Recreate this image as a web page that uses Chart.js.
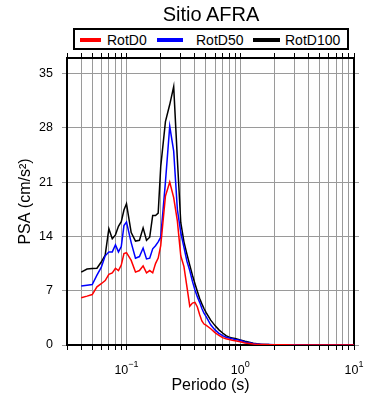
<!DOCTYPE html>
<html>
<head>
<meta charset="utf-8">
<script src="https://cdn.jsdelivr.net/npm/chart.js@4.4.0/dist/chart.umd.min.js"></script>
<style>
  body { margin: 0; background: #fff; }
  #wrap { position: relative; width: 390px; height: 400px; font-family: "Liberation Sans", Arial, sans-serif; color: #000; }
  #c { position: absolute; left: 0; top: 0; }
  #title { position: absolute; left: 111px; top: 4px; width: 200px; text-align: center; font-size: 20px; line-height: 1; }
  #legend { position: absolute; left: 73px; top: 28px; width: 276px; height: 22px; box-sizing: border-box; border: 2px solid #000; background: #fff; }
  .lg-line { position: absolute; height: 4px; top: 38px; }
  .lg-text { position: absolute; top: 33px; font-size: 14px; line-height: 1; white-space: nowrap; }
</style>
</head>
<body>
<div id="wrap">
  <canvas id="c" width="390" height="400"></canvas>
  <div id="title">Sitio AFRA</div>
  <div id="legend"></div>
</div>
<script>
// periodos (s)
const periods = [0.04, 0.045, 0.05, 0.055, 0.06, 0.065, 0.07, 0.075, 0.08, 0.085, 0.09, 0.095,
  0.1, 0.11, 0.12, 0.13, 0.14, 0.15, 0.16, 0.17, 0.18, 0.19, 0.2,
  0.22, 0.24, 0.26, 0.28, 0.3, 0.32, 0.34, 0.36, 0.38, 0.4, 0.42, 0.44, 0.46, 0.48, 0.5,
  0.55, 0.6, 0.65, 0.7, 0.75, 0.8, 0.85, 0.9, 0.95, 1.0,
  1.1, 1.2, 1.3, 1.4, 1.5, 1.6,
  1.8, 2.0, 2.5, 3.0,
  4.0, 5.0, 6.0, 7.0, 8.0, 9.0, 10.0];

const rotD0 = [6.1, 6.3, 6.5, 7.5, 7.9, 8.3, 9.1, 9.3, 9.9, 9.6, 10.3, 11.8,
  11.9, 10.9, 9.4, 9.6, 10.2, 9.3, 9.6, 9.3, 10.5, 11.2, 12.8,
  19.2, 21.0, 19.0, 16.0, 11.5, 10.1, 7.5, 5.0, 5.4, 5.5, 4.9, 3.9, 3.1, 2.7, 2.55,
  2.1, 1.6, 1.25, 0.95, 0.8, 0.7, 0.6, 0.55, 0.48, 0.42,
  0.25, 0.18, 0.12, 0.08, 0.06, 0.05,
  0.04, 0.03, 0.02, 0.015,
  0.01, 0.01, 0.01, 0.01, 0.01, 0.01, 0.01];

const rotD50 = [7.6, 7.7, 7.8, 9.0, 10.0, 11.5, 12.0, 12.0, 12.9, 12.0, 12.7, 15.4,
  15.85, 13.2, 11.2, 11.4, 12.5, 11.1, 11.2, 12.4, 12.8, 13.3, 13.9,
  21.0, 28.2, 25.0, 17.5, 14.5, 12.6, 10.8, 9.6, 8.2, 7.1, 6.2, 5.5, 4.7, 4.1, 3.7,
  2.6, 1.95, 1.5, 1.2, 1.0, 0.9, 0.8, 0.72, 0.66, 0.6,
  0.4, 0.3, 0.2, 0.13, 0.1, 0.07,
  0.05, 0.04, 0.03, 0.02,
  0.012, 0.01, 0.01, 0.01, 0.01, 0.01, 0.01];

const rotD100 = [9.4, 9.8, 9.85, 9.9, 10.7, 11.6, 15.0, 13.7, 14.2, 15.3, 15.9, 17.4,
  18.2, 14.5, 13.4, 13.5, 15.1, 13.5, 13.9, 16.7, 16.7, 17.0, 23.0,
  28.8, 31.0, 33.3, 24.0, 15.8, 13.3, 11.7, 10.3, 9.0, 7.9, 6.9, 6.0, 5.3, 4.7, 4.2,
  3.2, 2.5, 1.95, 1.55, 1.2, 1.0, 0.92, 0.85, 0.74, 0.64,
  0.48, 0.36, 0.24, 0.16, 0.11, 0.08,
  0.05, 0.04, 0.03, 0.02,
  0.015, 0.01, 0.01, 0.01, 0.01, 0.01, 0.01];

const seriesNames = ['RotD0', 'RotD50', 'RotD100'];
const seriesColors = ['#ff0000', '#0000ff', '#000000'];
const yTicks = [0, 7, 14, 21, 28, 35];
const xMajorTicks = [0.1, 1, 10];
const xMajorExps = ['\u22121', '0', '1'];

const X_MIN = 0.03, X_MAX = 10, Y_MIN = 0, Y_MAX = 37;
const FONT = '"Liberation Sans", Arial, sans-serif';

// log grid: 1..9 x each decade
const xGrid = [];
[0.01, 0.1, 1].forEach(d => {
  for (let m = 1; m <= 9; m++) {
    const v = +(m * d).toPrecision(3);
    if (v >= X_MIN - 1e-9) xGrid.push(v);
  }
});
xGrid.push(X_MAX);

// legend (html)
const legendX = [80, 157, 253];
const legendTextX = [107, 196, 285];
const legendW = [21, 26, 27];
const wrap = document.getElementById('wrap');
seriesNames.forEach((name, i) => {
  const ln = document.createElement('div');
  ln.className = 'lg-line';
  ln.style.left = legendX[i] + 'px';
  ln.style.width = legendW[i] + 'px';
  ln.style.background = seriesColors[i];
  wrap.appendChild(ln);
  const tx = document.createElement('div');
  tx.className = 'lg-text';
  tx.style.left = legendTextX[i] + 'px';
  tx.textContent = name;
  wrap.appendChild(tx);
});

// 10^n labels with a real superscript
const powLabels = {
  id: 'powLabels',
  afterDraw(ch) {
    const s = ch.scales.x;
    const c = ch.ctx;
    c.save();
    c.fillStyle = '#000';
    c.textBaseline = 'alphabetic';
    c.textAlign = 'left';
    xMajorTicks.forEach((v, i) => {
      const px = s.getPixelForValue(v);
      c.font = '12.5px ' + FONT;
      const w1 = c.measureText('10').width;
      c.font = '9px ' + FONT;
      const w2 = c.measureText(xMajorExps[i]).width;
      const x0 = px - (w1 + w2) / 2;
      c.font = '12.5px ' + FONT;
      c.fillText('10', x0, 374);
      c.font = '9px ' + FONT;
      c.fillText(xMajorExps[i], x0 + w1, 367);
    });
    c.restore();
  }
};

Chart.defaults.font.family = FONT;
Chart.defaults.color = '#000';

const gridColor = '#9a9a9a';
const series = [rotD0, rotD50, rotD100];

const ctx = document.getElementById('c').getContext('2d');
const chart = new Chart(ctx, {
  type: 'line',
  data: {
    datasets: series.map((vals, i) => ({
      label: seriesNames[i],
      data: periods.map((p, j) => ({ x: p, y: vals[j] })),
      borderColor: seriesColors[i],
      borderWidth: 1.5,
      pointRadius: 0,
      tension: 0,
      fill: false
    }))
  },
  options: {
    responsive: false,
    animation: false,
    devicePixelRatio: 1,
    layout: { padding: 0 },
    plugins: { legend: { display: false }, tooltip: { enabled: false } },
    scales: {
      x: {
        type: 'logarithmic',
        position: 'bottom',
        min: X_MIN, max: X_MAX,
        afterBuildTicks: s => { s.ticks = xGrid.map(v => ({ value: v })); },
        afterFit: s => { s.height = 55; },
        grid: { color: gridColor, lineWidth: 1, tickLength: 5, tickColor: '#000' },
        border: { display: true, color: '#000', width: 2 },
        ticks: { display: false },
        title: { display: true, text: 'Periodo (s)', font: { size: 16 }, padding: { top: 0, bottom: 5 } }
      },
      x2: {
        type: 'logarithmic',
        position: 'top',
        min: X_MIN, max: X_MAX,
        afterBuildTicks: s => { s.ticks = xGrid.map(v => ({ value: v })); },
        afterFit: s => { s.height = 58; },
        grid: { drawOnChartArea: false, tickLength: 5, tickColor: '#000' },
        border: { display: true, color: '#000', width: 2 },
        ticks: { display: false }
      },
      y: {
        type: 'linear',
        position: 'left',
        min: Y_MIN, max: Y_MAX,
        afterBuildTicks: s => { s.ticks = yTicks.map(v => ({ value: v })); },
        afterFit: s => { s.width = 67; },
        grid: { color: gridColor, lineWidth: 1, tickLength: 5 },
        border: { display: true, color: '#000', width: 2 },
        ticks: { font: { size: 12.5 }, padding: 9 },
        title: { display: true, text: 'PSA (cm/s²)', font: { size: 16 }, padding: { top: 16, bottom: 0 } }
      },
      y2: {
        type: 'linear',
        position: 'right',
        min: Y_MIN, max: Y_MAX,
        afterBuildTicks: s => { s.ticks = yTicks.map(v => ({ value: v })); },
        afterFit: s => { s.width = 36; },
        grid: { drawOnChartArea: false, color: gridColor, tickLength: 5 },
        border: { display: true, color: '#000', width: 2 },
        ticks: { display: false }
      }
    }
  },
  plugins: [powLabels]
});
</script>
</body>
</html>
